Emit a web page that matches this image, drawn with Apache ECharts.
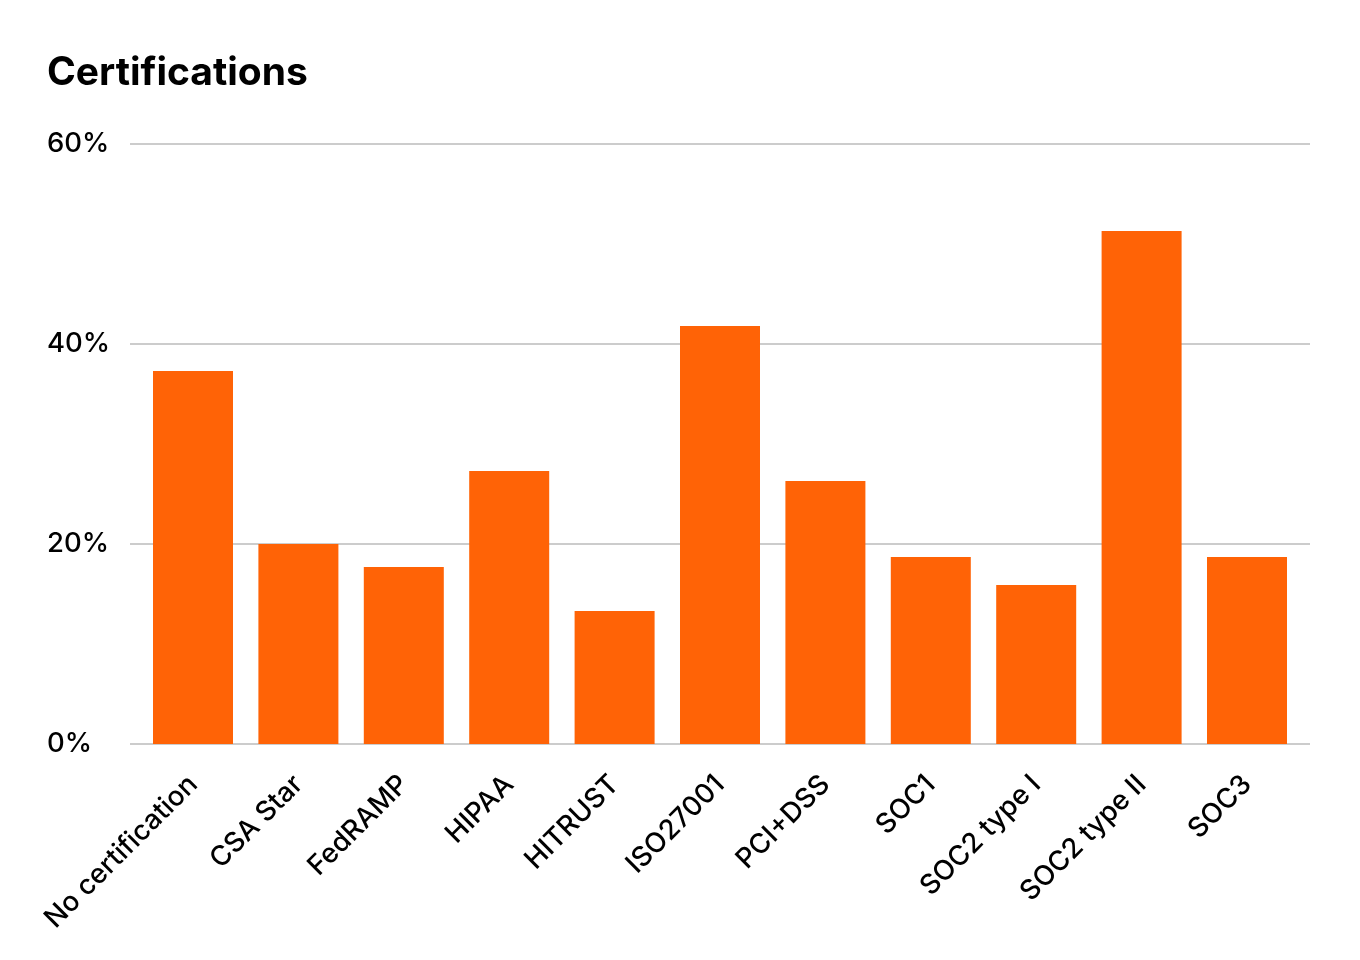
<!DOCTYPE html>
<html>
<head>
<meta charset="utf-8">
<script src="https://cdn.jsdelivr.net/npm/echarts@6/dist/echarts.min.js"></script>
<style>html,body{margin:0;padding:0;background:#fff}#c{width:1360px;height:960px}</style>
</head>
<body>
<div id="c"></div>
<script>
const categories = ["No certification","CSA Star","FedRAMP","HIPAA","HITRUST","ISO27001","PCI+DSS","SOC1","SOC2 type I","SOC2 type II","SOC3"];
const values = [37.3, 20.0, 17.7, 27.3, 13.3, 41.8, 26.3, 18.7, 15.9, 51.3, 18.7];
const yTicks = [0, 20, 40, 60];

const font = "Inter, 'Noto Sans', sans-serif";
const chart = echarts.init(document.getElementById('c'));
chart.setOption({
  backgroundColor: '#fff',
  animation: false,
  title: {
    text: 'Certifications', left: 42, top: 49,
    textStyle: { fontFamily: font, fontSize: 39, fontWeight: 'bold', color: '#000' }
  },
  grid: [
    { left: 130, right: 50, top: 144, bottom: 216 },
    { left: 140.3, width: 1159.4, top: 144, bottom: 216 }
  ],
  xAxis: [
    { type: 'category', gridIndex: 0, data: categories, show: false },
    {
      type: 'category', gridIndex: 1, data: categories,
      axisLine: { show: false }, axisTick: { show: false },
      axisLabel: { rotate: 45, interval: 0, margin: 36, color: '#000', fontFamily: font, fontSize: 27.5, fontWeight: 500 }
    }
  ],
  yAxis: [
    {
      type: 'value', gridIndex: 0, min: yTicks[0], max: yTicks[yTicks.length-1], interval: 20,
      axisLine: { show: false }, axisTick: { show: false },
      splitLine: { lineStyle: { color: '#cccccc', width: 2 } },
      axisLabel: { formatter: '{value}%', align: 'left', margin: 83, color: '#000', fontFamily: font, fontSize: 27.5, fontWeight: 500 }
    },
    { type: 'value', gridIndex: 1, min: 0, max: 60, show: false }
  ],
  series: [{
    type: 'bar', xAxisIndex: 1, yAxisIndex: 1, data: values, barWidth: 80,
    itemStyle: { color: '#FF6306' }
  }]
});
</script>
</body>
</html>
